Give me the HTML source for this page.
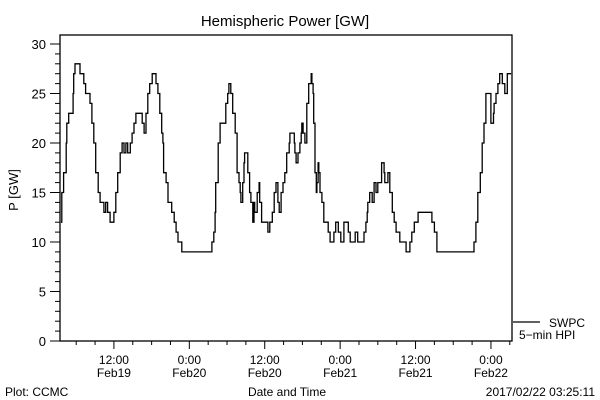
<!DOCTYPE html>
<html><head><meta charset="utf-8"><style>
body{margin:0;background:#fff}
svg{display:block;font-family:"Liberation Sans",sans-serif}
text{fill:#000}
</style></head><body>
<svg id="chart" width="600" height="400" viewBox="0 0 600 400">
<rect width="600" height="400" fill="#fff"/>
<text x="285" y="26" font-size="15" text-anchor="middle">Hemispheric Power [GW]</text>
<text transform="translate(18,190) rotate(-90)" font-size="13" text-anchor="middle">P [GW]</text>
<text x="287" y="396" font-size="12" text-anchor="middle">Date and Time</text>
<text x="5" y="396" font-size="12">Plot: CCMC</text>
<text x="595" y="396" font-size="12" text-anchor="end">2017/02/22 03:25:11</text>
<g id="axes"></g>
<g id="series"></g>
<rect x="60" y="35" width="452" height="306" fill="none" stroke="#000" stroke-width="1.3"/>
<line x1="513" y1="322" x2="540" y2="322" stroke="#000" stroke-width="1.2"/>
<text x="549" y="327" font-size="12">SWPC</text>
<text x="519" y="339" font-size="12">5−min HPI</text>
</svg>
<script>
const hours=[3.6,3.7,4.0,4.4,4.5,4.8,5.2,5.5,5.6,5.8,6.4,6.6,6.9,7.2,7.5,7.9,8.2,8.5,8.8,9.1,9.5,9.8,10.1,10.4,10.7,11.0,11.4,11.8,12.0,12.3,12.6,13.0,13.3,13.6,13.9,14.2,14.6,14.9,15.2,15.5,16.1,16.5,16.8,17.1,17.4,17.7,18.1,18.4,18.7,19.0,19.3,19.6,19.8,19.9,20.3,20.6,20.9,21.2,21.6,21.9,22.2,22.5,22.8,27.3,27.6,27.9,28.1,28.2,28.6,28.9,29.5,29.8,30.1,30.3,30.6,30.9,31.3,31.6,31.9,32.1,32.2,32.5,32.7,32.8,33.2,33.3,33.6,33.8,34.1,34.3,34.4,34.8,35.1,35.2,35.5,36.2,36.5,36.7,36.8,37.2,37.5,37.8,38.1,38.3,38.6,38.9,39.2,39.5,39.9,40.0,40.5,40.7,40.8,41.0,41.3,41.6,41.8,41.9,42.1,42.4,42.7,43.0,43.4,43.5,43.7,43.8,44.0,44.2,44.3,44.5,44.6,44.8,45.1,45.4,45.7,46.1,46.4,46.7,47.0,47.3,47.7,48.0,48.1,48.6,48.9,49.3,49.6,49.9,50.4,50.8,51.5,51.8,52.1,52.3,52.4,52.7,53.1,53.4,53.5,53.7,54.0,54.3,54.6,55.0,55.1,55.6,55.9,56.3,56.6,56.9,57.2,57.5,58.2,58.5,58.8,59.1,59.4,59.8,60.1,60.4,62.0,62.6,63.0,63.4,69.0,69.3,69.6,69.9,70.3,70.6,70.9,71.2,71.7,72.0,72.4,72.5,72.8,73.1,73.4,73.8,74.2,74.6,75.2];
const power=[12,15,17,20,22,23,23,25,27,28,28,27,27,26,25,25,24,22,20,17,15,14,14,13,14,13,12,12,13,15,17,19,20,19,20,19,20,21,22,23,23,22,21,23,25,26,27,27,26,25,23,21,20,17,16,14,14,13,12,11,10,10,9,9,10,11,13,16,20,22,22,24,25,26,25,23,21,17,16,15,14,16,18,19,19,17,15,14,12,14,13,15,16,14,12,12,11,11,12,13,15,16,14,13,15,16,17,19,20,21,21,20,19,18,19,20,21,22,21,20,24,26,27,26,25,22,17,15,16,18,17,15,14,12,12,11,10,10,11,12,11,11,10,12,12,11,10,10,11,10,10,11,12,13,14,15,14,16,16,15,16,16,18,17,16,17,15,13,12,11,11,10,10,9,9,10,11,12,12,13,13,12,11,9,9,10,12,15,17,20,22,25,25,22,23,24,25,26,27,26,25,27,27];
const yTickLabels=["0","5","10","15","20","25","30"];
const xTickLabels=[["12:00","Feb19"],["0:00","Feb20"],["12:00","Feb20"],["0:00","Feb21"],["12:00","Feb21"],["0:00","Feb22"]];
const xTickHours=[12,24,36,48,60,72];
const T0=3.42,T1=75.35,L=60,R=512,B=341;
const x=h=>L+(h-T0)/(T1-T0)*(R-L);
const y=v=>B-v*9.9;
const NS="http://www.w3.org/2000/svg";
const ax=document.getElementById('axes');
function mk(tag,attrs,parent){const e=document.createElementNS(NS,tag);for(const k in attrs)e.setAttribute(k,attrs[k]);parent.appendChild(e);return e;}
for(let v=0;v<=30;v++){
  const major=v%5===0;
  const t=mk('line',{x1:major?50:55,x2:L,y1:y(v),y2:y(v),stroke:'#000','stroke-width':1},ax);
  
  
}
yTickLabels.forEach((s,i)=>{
  const t=mk('text',{x:46,y:y(+s)+5,'font-size':13,'text-anchor':'end'},ax);t.textContent=s;
  
  
});
for(let h=6;h<T1;h+=3){
  const major=h%12===0;
  const t=mk('line',{x1:x(h),x2:x(h),y1:B,y2:major?B+8:B+4,stroke:'#000','stroke-width':1},ax);
  
  
}
xTickLabels.forEach((p,i)=>{
  const t1=mk('text',{x:x(xTickHours[i]),y:364,'font-size':12,'text-anchor':'middle'},ax);t1.textContent=p[0];
  
  
  const t2=mk('text',{x:x(xTickHours[i]),y:377,'font-size':12,'text-anchor':'middle'},ax);t2.textContent=p[1];
  
  
});
let d='M'+(L+1)+','+y(power[0]);
for(let i=0;i<hours.length;i++){d+=' H'+x(hours[i]).toFixed(1)+' V'+y(power[i]).toFixed(1);}
d+=' H'+(R-1);
const p=mk('path',{d:d,fill:'none',stroke:'#000','stroke-width':1.3},document.getElementById('series'));


</script>
</body></html>
